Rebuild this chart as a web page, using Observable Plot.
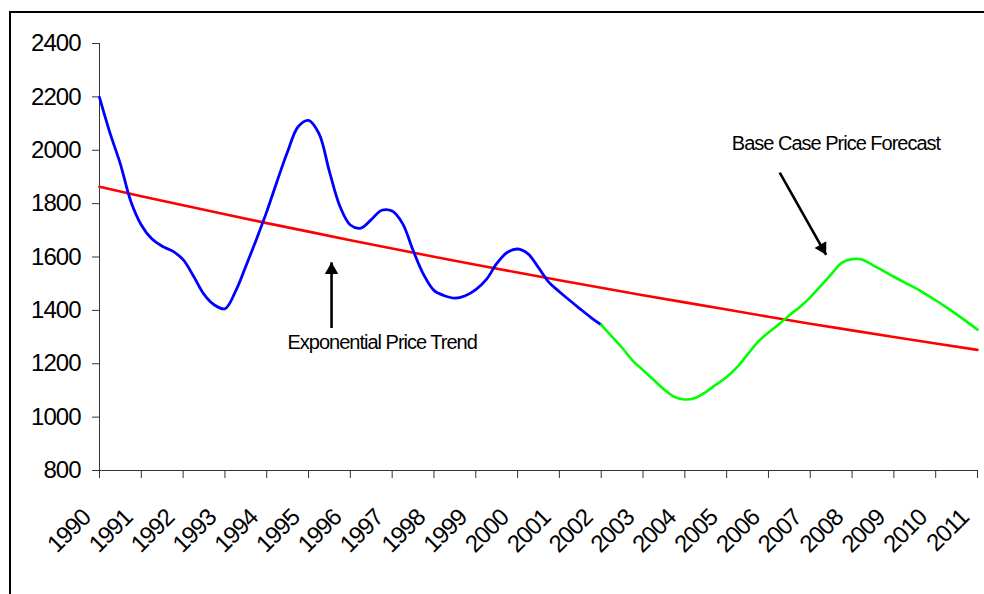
<!DOCTYPE html>
<html>
<head>
<meta charset="utf-8">
<script src="https://cdn.jsdelivr.net/npm/d3@7"></script>
<script src="https://cdn.jsdelivr.net/npm/@observablehq/plot@0.6"></script>
<style>
  html, body { margin: 0; padding: 0; background: #fff; overflow: hidden; }
  #wrap { position: relative; width: 984px; height: 594px; }
  #frame { position: absolute; left: 9px; top: 11px; width: 1200px; height: 800px;
           border-left: 2px solid #000; border-top: 2px solid #000; pointer-events: none; }
  #chart svg { display: block; }
  #chart svg text { letter-spacing: -1px; }
</style>
</head>
<body>
<div id="wrap"><div id="chart"></div><div id="frame"></div></div>
<script>
// ---- data ----
const years = [1990,1991,1992,1993,1994,1995,1996,1997,1998,1999,2000,2001,2002,2003,2004,2005,2006,2007,2008,2009,2010,2011];
const yTicks = [800,1000,1200,1400,1600,1800,2000,2200,2400];

// exponential price trend (one value per year)
const trendValues = [1863,1828,1794,1760,1727,1695,1663,1632,1601,1571,1542,1513,1485,1457,1430,1403,1376,1350,1325,1300,1276,1252];

// historical price (quarterly, starting 1990 Q1)
const historyStart = 1990;
const historyValues = [
  2198,2065,1948,1808,
  1720,1668,1640,1622,
  1590,1528,1460,1420,
  1406,1470,1565,1665,
  1770,1885,1995,2088,
  2112,2062,1920,1790,
  1720,1708,1740,1775,
  1772,1725,1625,1535,
  1475,1455,1446,1455,
  1478,1515,1575,1617,
  1630,1612,1560,1505,
  1470,1437,1405,1374,
  1346
];

// base case price forecast (quarterly, starting 2002 Q1)
const forecastStart = 2002;
const forecastValues = [
  1346,1303,1260,1212,
  1176,1140,1104,1076,
  1066,1072,1094,1122,
  1150,1187,1235,1282,
  1317,1348,1382,1413,
  1449,1492,1535,1578,
  1592,1590,1569,1548,
  1526,1505,1485,1462,
  1438,1412,1385,1357,
  1328
];

// annotations
const noteTexts = ["Exponential Price Trend", "Base Case Price Forecast"];
const noteX = [1996.76, 2007.615];
const noteY = [1256.6, 2000.3];
const arrowFromX = [1995.55, 2006.27];
const arrowFromY = [1334, 1916];
const arrowToX = [1995.55, 2007.38];
const arrowToY = [1580, 1608];

// ---- tables ----
const trend = years.map((t, i) => ({t, v: trendValues[i]}));
const history = historyValues.map((v, i) => ({t: historyStart + i / 4, v}));
const forecast = forecastValues.map((v, i) => ({t: forecastStart + i / 4, v}));
const notes = noteTexts.map((text, i) => ({text, x: noteX[i], y: noteY[i]}));
const arrows = arrowFromX.map((x1, i) => ({x1, y1: arrowFromY[i], x2: arrowToX[i], y2: arrowToY[i]}));

const font = "'Liberation Sans', Arial, sans-serif";

const chart = Plot.plot({
  width: 984,
  height: 594,
  marginLeft: 99,
  marginRight: 7,
  marginTop: 43,
  marginBottom: 124,
  style: {fontFamily: font, fontSize: "24px", color: "#000", background: "transparent"},
  x: {domain: [1990, 2011], axis: null},
  y: {domain: [800, 2400], axis: null},
  marks: [
    // axes
    Plot.axisY({ticks: yTicks, tickSize: 7, tickPadding: 12, fontSize: 24, stroke: "#333", fill: "#000", label: null, tickFormat: d => String(d)}),
    Plot.axisX({ticks: years, tickSize: 8, tickFormat: () => "", stroke: "#333", label: null}),
    Plot.ruleX([1990], {stroke: "#333", strokeWidth: 1}),
    Plot.ruleY([800], {stroke: "#333", strokeWidth: 1}),
    Plot.text(years, {x: d => d, y: () => 800, text: d => String(d), rotate: -45, textAnchor: "end", lineAnchor: "middle", dx: -13, dy: 43, fontSize: 24, fill: "#000"}),
    // series
    Plot.line(trend, {x: "t", y: "v", stroke: "#ff0000", strokeWidth: 2.6}),
    Plot.line(history, {x: "t", y: "v", stroke: "#0000ff", strokeWidth: 2.8, curve: "catmull-rom"}),
    Plot.line(forecast, {x: "t", y: "v", stroke: "#00ff00", strokeWidth: 2.6, curve: "catmull-rom"}),
    // annotations
    Plot.link(arrows, {x1: "x1", y1: "y1", x2: "x2", y2: "y2", stroke: "#000", strokeWidth: 2.6}),
    Plot.dot([arrows[0]], {x: "x2", y: "y2", symbol: "triangle", r: 5, fill: "#000", stroke: "none", rotate: 0, dy: 7.8}),
    Plot.dot([arrows[1]], {x: "x2", y: "y2", symbol: "triangle", r: 5, fill: "#000", stroke: "none", rotate: 150.6, dx: -3.8, dy: -6.8}),
    Plot.text(notes, {x: "x", y: "y", text: "text", textAnchor: "middle", lineAnchor: "bottom", fontSize: 20, fill: "#000"})
  ]
});
document.getElementById("chart").appendChild(chart);
</script>
</body>
</html>
